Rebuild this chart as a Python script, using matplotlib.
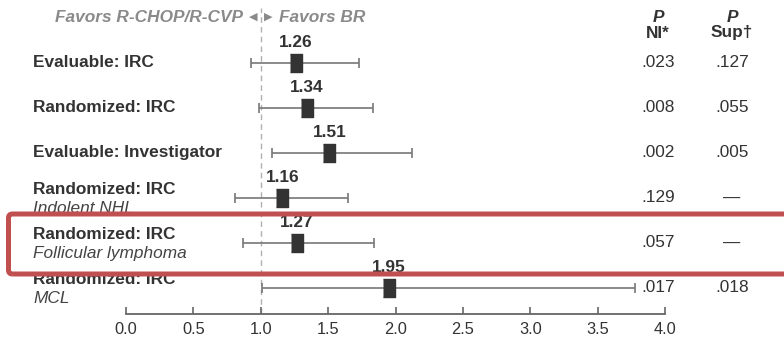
import matplotlib
matplotlib.use('Agg')
import matplotlib.pyplot as plt
import matplotlib.transforms as mtransforms
from matplotlib.patches import FancyBboxPatch

plt.rcParams['font.family'] = ['Liberation Sans', 'DejaVu Sans']
plt.rcParams['font.size'] = 12.4

# hazard ratios with 95% CI and p-values for each analysis
labels = ['Evaluable: IRC', 'Randomized: IRC', 'Evaluable: Investigator',
          'Randomized: IRC', 'Randomized: IRC', 'Randomized: IRC']
subtitles = ['', '', '', 'Indolent NHL', 'Follicular lymphoma', 'MCL']
hr = [1.26, 1.34, 1.51, 1.16, 1.27, 1.95]
ci_low = [0.93, 0.99, 1.08, 0.81, 0.87, 1.01]
ci_high = [1.73, 1.83, 2.12, 1.65, 1.84, 3.78]
p_ni = ['.023', '.008', '.002', '.129', '.057', '.017']
p_sup = ['.127', '.055', '.005', '—', '—', '.018']
xticks = [0.0, 0.5, 1.0, 1.5, 2.0, 2.5, 3.0, 3.5, 4.0]

W, H = 784, 340
fig = plt.figure(figsize=(W / 100, H / 100), dpi=100)
ax = fig.add_axes([126 / W, 26 / H, (665 - 126) / W, 314 / H])

rows = list(range(len(hr)))
ax.set_xlim(0, 4)
ax.set_ylim(5.578, -1.4)

dark = '#333333'
grey = '#777777'

ax.axvline(1.0, ymin=0, ymax=0.975, color='#b0b0b0', lw=1, dashes=(4, 3), zorder=1)

err = [[h - l for h, l in zip(hr, ci_low)], [u - h for h, u in zip(hr, ci_high)]]
ax.errorbar(hr, rows, xerr=err, fmt='none', ecolor=grey, elinewidth=1.2,
            capsize=3.6, capthick=1.2, zorder=2)
box = [(-0.75, -1), (0.75, -1), (0.75, 1), (-0.75, 1)]
ax.plot(hr, rows, ls='none', marker=box, markersize=12.4, color=dark, zorder=3)

for y, h in zip(rows, hr):
    ax.annotate(f'{h:.2f}', (h, y), xytext=(0, 15), textcoords='offset points',
                ha='center', va='center', fontweight='bold', color=dark)

# row labels on the left, p-values on the right
lab_tr = mtransforms.blended_transform_factory(fig.transFigure, ax.transData)
for y, lab, sub in zip(rows, labels, subtitles):
    if sub:
        ax.annotate(lab, (33 / W, y), xycoords=lab_tr, xytext=(0, 6.2),
                    textcoords='offset points', ha='left', va='center',
                    fontweight='bold', color=dark)
        ax.annotate(sub, (33 / W, y), xycoords=lab_tr, xytext=(0, -7.5),
                    textcoords='offset points', ha='left', va='center',
                    style='italic', color='#444444')
    else:
        ax.text(33 / W, y, lab, transform=lab_tr, ha='left', va='center',
                fontweight='bold', color=dark)

for y, a, b in zip(rows, p_ni, p_sup):
    ax.text(658 / W, y, a, transform=lab_tr, ha='center', va='center', color=dark)
    ax.text(732 / W, y, b, transform=lab_tr, ha='center', va='center', color=dark)

# column headers
for xc, sub in [(658, 'NI*'), (732, 'Sup†')]:
    fig.text(xc / W, 1 - 17 / H, 'P', ha='center', va='center', style='italic',
             fontweight='bold', color=dark)
    fig.text(xc / W, 1 - 33 / H, sub, ha='center', va='center',
             fontweight='bold', color=dark)

fav = '#8a8a8a'
fig.text(243 / W, 1 - 17 / H, 'Favors R-CHOP/R-CVP', ha='right', va='center',
         style='italic', fontweight='bold', color=fav)
fig.text(253 / W, 1 - 17 / H, '◀', ha='center', va='center', fontsize=8,
         color=fav, family='DejaVu Sans')
fig.text(268 / W, 1 - 17 / H, '▶', ha='center', va='center', fontsize=8,
         color=fav, family='DejaVu Sans')
fig.text(279 / W, 1 - 17 / H, 'Favors BR', ha='left', va='center',
         style='italic', fontweight='bold', color=fav)

# axis styling
for s in ['top', 'right', 'left']:
    ax.spines[s].set_visible(False)
ax.spines['bottom'].set_color('#666666')
ax.spines['bottom'].set_linewidth(1.3)
ax.set_yticks([])
ax.set_xticks(xticks)
ax.set_xticklabels([f'{t:.1f}' for t in xticks])
ax.tick_params(axis='x', direction='in', length=5, width=1.2, color='#666666',
               labelcolor=dark, labelsize=11.8, pad=6)
ax.patch.set_alpha(0)

# highlight box around the follicular lymphoma row
hl = FancyBboxPatch((8.5, 66), 800, 60, boxstyle='round,pad=0,rounding_size=4',
                    transform=mtransforms.IdentityTransform(), fill=False,
                    edgecolor='#c0504f', linewidth=3.6, zorder=10)
fig.add_artist(hl)

fig.savefig('out.png', dpi=100)
